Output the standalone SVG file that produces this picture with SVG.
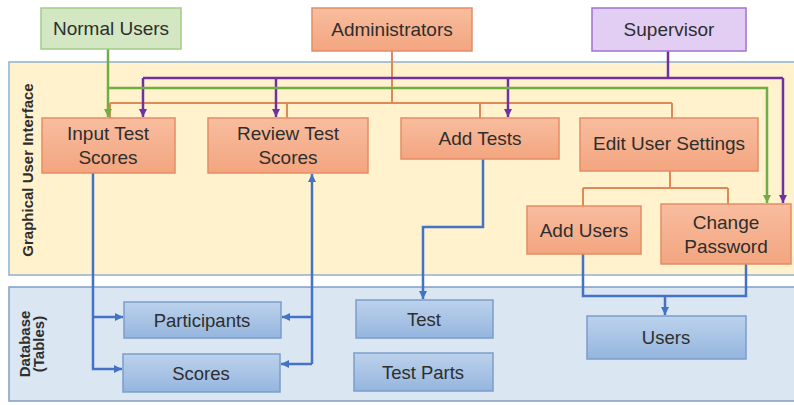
<svg xmlns="http://www.w3.org/2000/svg" width="794" height="405" viewBox="0 0 794 405">
  <defs>
    <linearGradient id="gSalmon" x1="0" y1="0" x2="0" y2="1">
      <stop offset="0" stop-color="#f8bd9f"/>
      <stop offset="1" stop-color="#f3a57f"/>
    </linearGradient>
    <linearGradient id="gBlue" x1="0" y1="0" x2="0" y2="1">
      <stop offset="0" stop-color="#bcd2ec"/>
      <stop offset="1" stop-color="#95b5de"/>
    </linearGradient>
    <marker id="arPurple" markerUnits="userSpaceOnUse" markerWidth="9" markerHeight="8" refX="8" refY="4" orient="auto">
      <path d="M0,0 L8,4 L0,8 z" fill="#7030a0"/>
    </marker>
    <marker id="arGreen" markerUnits="userSpaceOnUse" markerWidth="9" markerHeight="8" refX="8" refY="4" orient="auto">
      <path d="M0,0 L8,4 L0,8 z" fill="#70ad47"/>
    </marker>
    <marker id="arBlue" markerUnits="userSpaceOnUse" markerWidth="9" markerHeight="8" refX="8" refY="4" orient="auto">
      <path d="M0,0 L8,4 L0,8 z" fill="#4472c4"/>
    </marker>
  </defs>
  <style>
    text { font-family: "Liberation Sans", Arial, sans-serif; fill: #2e2e2e; text-anchor: middle; }
    .lbl { font-size: 19px; }
    .db { font-size: 18.5px; }
    .side { font-size: 15px; font-weight: bold; }
    .salmon { fill: url(#gSalmon); stroke: #e38d66; stroke-width: 1.5; }
    .table { fill: url(#gBlue); stroke: #7b9dcb; stroke-width: 1.5; }
    .purple { fill: none; stroke: #7030a0; stroke-width: 2.5; }
    .green { fill: none; stroke: #70ad47; stroke-width: 2.5; }
    .orange { fill: none; stroke: #df8a56; stroke-width: 2; }
    .blue { fill: none; stroke: #4472c4; stroke-width: 2.5; }
  </style>

  <rect width="794" height="405" fill="#ffffff"/>

  <!-- layer panels -->
  <g id="panels">
    <rect x="9" y="62" width="800" height="213" fill="#fff2cc" stroke="#8fb1d3" stroke-width="1.5"/>
    <rect x="9" y="287" width="800" height="114" fill="#dbe6f3" stroke="#7f9fc4" stroke-width="1.5"/>
    <text class="side" transform="translate(33,170) rotate(-90)">Graphical User Interface</text>
    <text class="side" transform="translate(30,344) rotate(-90)">Database</text>
    <text class="side" transform="translate(44,344) rotate(-90)">(Tables)</text>
  </g>

  <!-- connectors -->
  <g id="connectors">
    <!-- administrators -->
    <path class="orange" d="M392,51 V103"/>
    <path class="orange" d="M110,103 H672"/>
    <path class="orange" d="M110,103 V118 M287,103 V118 M480,103 V118 M672,103 V118"/>
    <!-- supervisor -->
    <path class="purple" d="M668,51 V78"/>
    <path class="purple" d="M143,78 H783"/>
    <path class="purple" d="M143,78 V117" marker-end="url(#arPurple)"/>
    <path class="purple" d="M276,78 V117" marker-end="url(#arPurple)"/>
    <path class="purple" d="M508,78 V117" marker-end="url(#arPurple)"/>
    <path class="purple" d="M783,78 V203" marker-end="url(#arPurple)"/>
    <!-- normal users -->
    <path class="green" d="M108,49 V117" marker-end="url(#arGreen)"/>
    <path class="green" d="M108,88 H767 V203" marker-end="url(#arGreen)"/>
    <!-- edit user settings -->
    <path class="orange" d="M670,171 V188 M583,188 H728 M583,188 V206 M728,188 V204"/>
    <!-- gui to tables -->
    <path class="blue" d="M93,173 V369 H122" marker-end="url(#arBlue)"/>
    <path class="blue" d="M93,317 H123" marker-end="url(#arBlue)"/>
    <path class="blue" d="M312,364 V174" marker-end="url(#arBlue)"/>
    <path class="blue" d="M312,317 H282" marker-end="url(#arBlue)"/>
    <path class="blue" d="M312,364 H281" marker-end="url(#arBlue)"/>
    <path class="blue" d="M483,159 V227 H423 V299" marker-end="url(#arBlue)"/>
    <path class="blue" d="M583,254 V296 H746 V264"/>
    <path class="blue" d="M665,296 V315" marker-end="url(#arBlue)"/>
  </g>

  <!-- actors -->
  <g id="normal-users">
    <rect x="41" y="8" width="140" height="41" fill="#d3e7c2" stroke="#a2cb85" stroke-width="1.5"/>
    <text class="lbl" x="111" y="35">Normal Users</text>
  </g>
  <g id="administrators">
    <rect x="312" y="8" width="160" height="43" class="salmon"/>
    <text class="lbl" x="392" y="36">Administrators</text>
  </g>
  <g id="supervisor">
    <rect x="592" y="8" width="154" height="43" fill="#e2cdf3" stroke="#a070d2" stroke-width="1.5"/>
    <text class="lbl" x="669" y="36">Supervisor</text>
  </g>

  <!-- interface functions -->
  <g id="input-test-scores">
    <rect x="42" y="118" width="133" height="55" class="salmon"/>
    <text class="lbl" x="108" y="140">Input Test</text>
    <text class="lbl" x="108" y="164">Scores</text>
  </g>
  <g id="review-test-scores">
    <rect x="208" y="118" width="160" height="55" class="salmon"/>
    <text class="lbl" x="288" y="140">Review Test</text>
    <text class="lbl" x="288" y="164">Scores</text>
  </g>
  <g id="add-tests">
    <rect x="401" y="118" width="158" height="41" class="salmon"/>
    <text class="lbl" x="480" y="145">Add Tests</text>
  </g>
  <g id="edit-user-settings">
    <rect x="580" y="118" width="178" height="53" class="salmon"/>
    <text class="lbl" x="669" y="150">Edit User Settings</text>
  </g>
  <g id="add-users">
    <rect x="527" y="206" width="114" height="48" class="salmon"/>
    <text class="lbl" x="584" y="237">Add Users</text>
  </g>
  <g id="change-password">
    <rect x="661" y="204" width="130" height="60" class="salmon"/>
    <text class="lbl" x="726" y="229">Change</text>
    <text class="lbl" x="726" y="253">Password</text>
  </g>

  <!-- tables -->
  <g id="participants">
    <rect x="124" y="302" width="157" height="36" class="table"/>
    <text class="db" x="202" y="327">Participants</text>
  </g>
  <g id="scores">
    <rect x="123" y="354" width="157" height="38" class="table"/>
    <text class="db" x="201" y="380">Scores</text>
  </g>
  <g id="test">
    <rect x="356" y="300" width="137" height="38" class="table"/>
    <text class="db" x="424" y="326">Test</text>
  </g>
  <g id="test-parts">
    <rect x="354" y="353" width="139" height="38" class="table"/>
    <text class="db" x="423" y="379">Test Parts</text>
  </g>
  <g id="users">
    <rect x="587" y="316" width="159" height="43" class="table"/>
    <text class="db" x="666" y="344">Users</text>
  </g>
</svg>
